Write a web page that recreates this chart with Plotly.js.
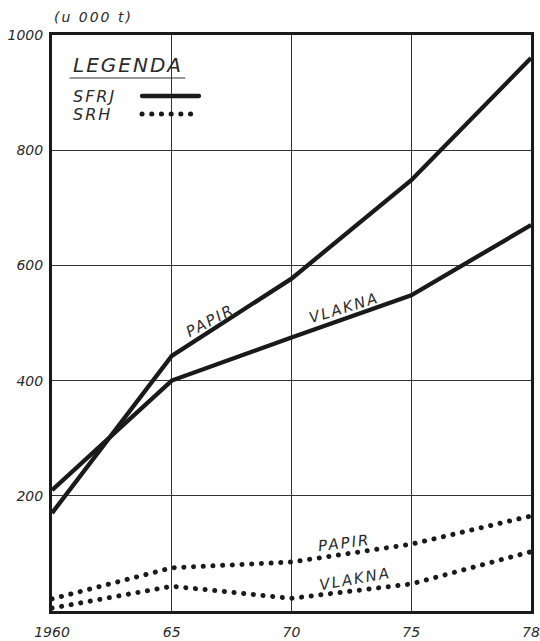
<!DOCTYPE html>
<html>
<head>
<meta charset="utf-8">
<script src="https://cdn.plot.ly/plotly-3.0.1.min.js"></script>
<style>
html,body{margin:0;padding:0;background:#fff;}
#chart{width:540px;height:641px;}
.dotline .js-line{stroke-linecap:round;}
.annotation-text{letter-spacing:2px;}
</style>
</head>
<body>
<div id="chart"></div>
<script>
// Data (thousands of tonnes)
const years = ["1960", "1965", "1970", "1975", "1978"];
const tickLabels = ["1960", "65", "70", "75", "78"];
const sfrjPapir  = [170, 443, 577, 748, 960];
const sfrjVlakna = [210, 400, 475, 548, 670];
const srhPapir   = [21, 75, 85, 116, 165];
const srhVlakna  = [5, 43, 22, 47, 103];
const yTicks = [200, 400, 600, 800, 1000];

const ink = "#1a1a1a";
const fnt = {family: "DejaVu Sans", size: 14, color: "#2a2a2a", style: "italic"};

const solid = {color: ink, width: 4.3};
const dotted = {color: ink, width: 5, dash: "0.1px,9.6px"};

const traces = [
  {x: years, y: sfrjPapir, mode: "lines", line: solid, name: "SFRJ papir", hoverinfo: "none"},
  {x: years, y: sfrjVlakna, mode: "lines", line: solid, name: "SFRJ vlakna", hoverinfo: "none"},
  {x: years, y: srhPapir, mode: "lines", line: dotted, name: "SRH papir", hoverinfo: "none"},
  {x: years, y: srhVlakna, mode: "lines", line: dotted, name: "SRH vlakna", hoverinfo: "none"}
];

function ann(text, x, y, angle, size, extra) {
  return Object.assign({
    text: text, x: x, y: y, xref: "paper", yref: "paper",
    xanchor: "center", yanchor: "middle",
    showarrow: false, textangle: angle || 0,
    font: Object.assign({}, fnt, {size: size || 14})
  }, extra || {});
}
function px(xp) { return (xp - 52) / 479; }
function py(yp) { return (611 - yp) / 576; }

const layout = {
  width: 540, height: 641,
  margin: {l: 52, r: 9, t: 35, b: 30},
  paper_bgcolor: "#fff", plot_bgcolor: "#fff",
  showlegend: false,
  xaxis: {
    type: "category", range: [0, 4], fixedrange: true,
    tickvals: years, ticktext: tickLabels,
    showgrid: true, gridcolor: "#333", gridwidth: 1,
    showline: true, mirror: true, linecolor: ink, linewidth: 3,
    ticks: "", tickfont: fnt, zeroline: false, ticklabelstandoff: 6
  },
  yaxis: {
    range: [0, 1000], fixedrange: true,
    tickvals: yTicks, ticktext: yTicks.map(String),
    showgrid: true, gridcolor: "#333", gridwidth: 1,
    showline: true, mirror: true, linecolor: ink, linewidth: 3,
    ticks: "", tickfont: fnt, zeroline: false, ticklabelstandoff: 3
  },
  annotations: [
    ann("(u 000 t)", px(52), py(17), 0, 14, {xanchor: "left"}),
    ann("LEGENDA", px(71), py(65), 0, 20, {xanchor: "left"}),
    ann("SFRJ", px(71), py(96), 0, 16, {xanchor: "left"}),
    ann("SRH", px(71), py(115), 0, 16, {xanchor: "left"}),
    ann("PAPIR", px(210), py(321), -28, 15),
    ann("VLAKNA", px(344), py(308), -17, 15),
    ann("PAPIR", px(344), py(543), -7, 15),
    ann("VLAKNA", px(355), py(579), -10, 15)
  ],
  shapes: [
    {type: "line", xref: "paper", yref: "paper", x0: px(70), x1: px(185), y0: py(78), y1: py(78), line: {color: "#333", width: 1.2}},
    {type: "line", xref: "paper", yref: "paper", x0: px(142), x1: px(199), y0: py(96), y1: py(96), line: {color: ink, width: 4.3}},
    {type: "line", xref: "paper", yref: "paper", x0: px(142), x1: px(200), y0: py(114), y1: py(114), line: {color: ink, width: 5, dash: "0.1px,9.6px"}}
  ]
};

Plotly.newPlot("chart", traces, layout, {staticPlot: true, displayModeBar: false}).then(function(gd){
  const paths = gd.querySelectorAll(".scatterlayer .trace");
  paths.forEach(function(t, i){ if (i >= 2) t.classList.add("dotline"); });
  gd.querySelectorAll(".shapelayer path").forEach(function(p){ p.style.strokeLinecap = "round"; });
});
</script>
</body>
</html>
